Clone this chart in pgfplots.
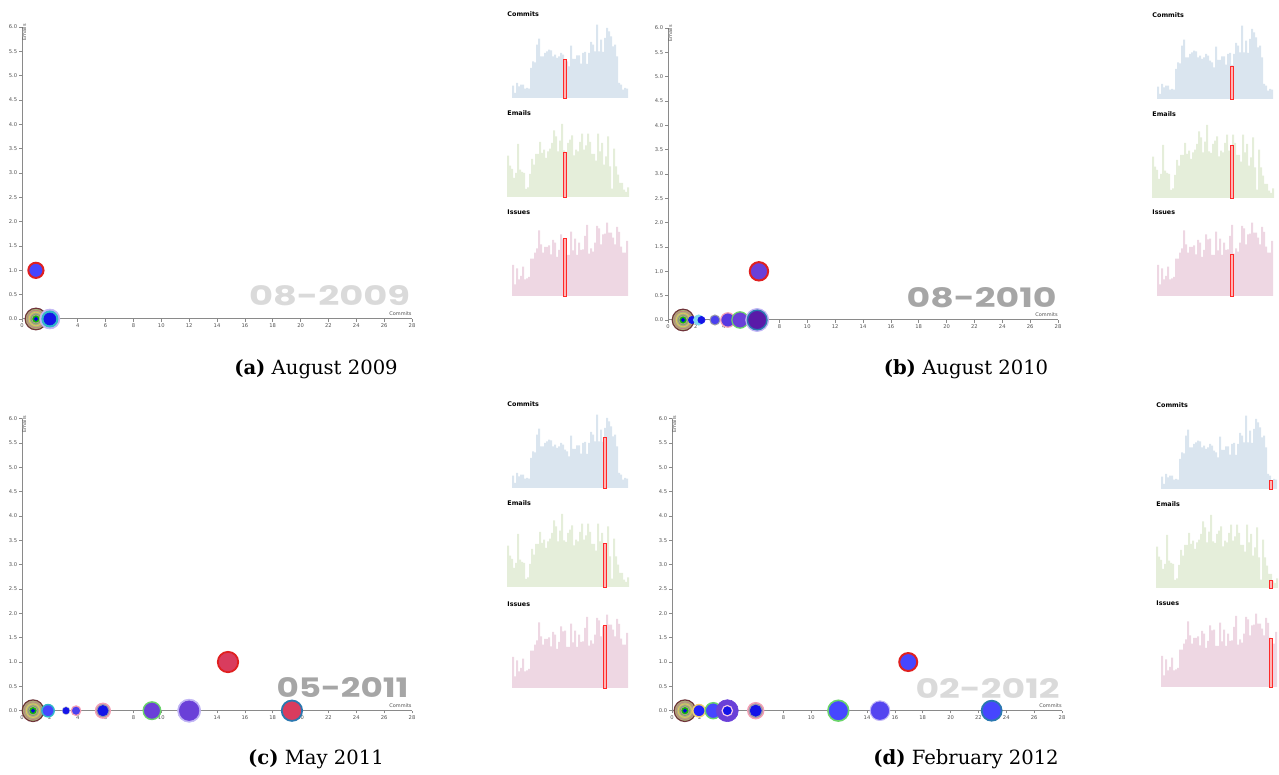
\documentclass[border=0pt]{standalone}
\usepackage{fontspec}
\setmainfont{DejaVu Serif}
\newfontfamily\datefont{Poppins}
\newfontfamily\labfont{DejaVu Sans}
\usepackage{graphicx}
\usepackage{pgfplots}
\pgfplotsset{compat=1.18}
\usepackage{pgfplotstable}

\definecolor{axgray}{HTML}{8A8A8A}
\definecolor{tickc}{HTML}{505050}
\definecolor{cfill}{HTML}{DAE5EF}
\definecolor{efill}{HTML}{E5EEDA}
\definecolor{ifill}{HTML}{EED7E3}
\definecolor{redb}{HTML}{FF2A2A}
\definecolor{redin}{HTML}{FFB4B4}
\definecolor{datelt}{HTML}{DADADA}
\definecolor{datedk}{HTML}{A6A6A6}
% bubble colours
\definecolor{tbrown}{HTML}{70343A}
\definecolor{tgreen}{HTML}{A9B77A}
\definecolor{tpink}{HTML}{C08080}
\definecolor{tyellow}{HTML}{E0C060}
\definecolor{tgray}{HTML}{909080}
\definecolor{tdgreen}{HTML}{10B010}
\definecolor{tblue}{HTML}{0000E0}
\definecolor{bfill}{HTML}{4646FF}
\definecolor{bfilltwo}{HTML}{2222FF}
\definecolor{bblue}{HTML}{1414E8}
\definecolor{btwo}{HTML}{4A40EE}
\definecolor{rred}{HTML}{E02020}
\definecolor{cyanr}{HTML}{30B8C8}
\definecolor{cyanlt}{HTML}{80D8EC}
\definecolor{halo}{HTML}{C0B4F4}
\definecolor{purp}{HTML}{6A40D8}
\definecolor{pone}{HTML}{5838E0}
\definecolor{ptwo}{HTML}{5545F0}
\definecolor{dpurp}{HTML}{5A1AA8}
\definecolor{crim}{HTML}{D93C5E}
\definecolor{steel}{HTML}{2A78B0}
\definecolor{greenr}{HTML}{6AD46A}
\definecolor{pinkr}{HTML}{F4A0B4}
\definecolor{pinkl}{HTML}{F4C8E8}
\definecolor{grayr}{HTML}{9A9AA8}
\definecolor{grayl}{HTML}{C8C8D8}
\definecolor{yellr}{HTML}{F0D070}

\newcommand\tickf{\labfont\fontsize{2.6}{3}\selectfont}
\newcommand\titf{\labfont\bfseries\fontsize{3.2}{3.6}\selectfont}

% histogram data (bar heights)
\pgfplotstableread[row sep=\\]{y\\37\\15\\45\\35\\40\\40\\28\\30\\28\\90\\110\\107\\160\\178\\125\\125\\135\\140\\145\\143\\125\\130\\120\\125\\135\\130\\115\\110\\95\\157\\117\\117\\128\\128\\103\\135\\138\\102\\135\\168\\160\\140\\220\\140\\175\\138\\180\\210\\200\\185\\155\\160\\125\\45\\40\\25\\30\\28\\}\commits
\pgfplotstableread[row sep=\\]{y\\124\\94\\84\\57\\72\\159\\82\\75\\72\\24\\29\\69\\114\\97\\129\\129\\165\\132\\142\\117\\137\\145\\162\\200\\182\\137\\169\\219\\140\\135\\162\\172\\185\\125\\142\\137\\165\\190\\142\\155\\190\\165\\129\\129\\109\\190\\137\\162\\97\\122\\182\\92\\25\\145\\92\\67\\42\\42\\22\\15\\29\\}\emails
\pgfplotstableread[row sep=\\]{y\\93\\35\\83\\50\\60\\88\\50\\53\\57\\112\\112\\130\\143\\197\\155\\130\\147\\147\\152\\125\\168\\160\\117\\138\\185\\170\\172\\123\\123\\193\\137\\172\\123\\160\\138\\140\\180\\213\\127\\143\\133\\160\\210\\203\\155\\185\\187\\220\\190\\190\\175\\155\\207\\192\\148\\130\\130\\165\\}\issues

\pgfplotsset{
  scat/.style={scale only axis, width=195pt, height=146pt, anchor=south west,
    xmin=0, xmax=28, ymin=0, ymax=6, axis lines*=left,
    axis line style={axgray, line width=0.5pt},
    tick style={axgray, line width=0.35pt}, tick align=outside, major tick length=1.4pt,
    xtick={0,2,...,28}, ytick={0,0.5,...,6},
    ticklabel style={font=\tickf, text=tickc, inner sep=0.8pt},
    /pgf/number format/assume math mode=true,
    yticklabel style={/pgf/number format/.cd, fixed, fixed zerofill, precision=1},
    xticklabel style={/pgf/number format/.cd, fixed, precision=0},
    clip=false},
  hist/.style={scale only axis, width=62pt, height=36.67pt, anchor=south west,
    xmin=0, xmax=124, ymin=0, ymax=220, axis lines=none, ticks=none, clip=false},
}

\newcommand\bub[6][0.5pt]{\addplot[only marks, mark=*, mark size=#4, mark options={draw=#5, fill=#6, line width=#1}] coordinates {(#2,#3)};}
\newcommand\ring[5][0.4pt]{\addplot[only marks, mark=o, mark size=#4, mark options={draw=#5, line width=#1}] coordinates {(#2,#3)};}
\newcommand\target[1]{%
  \bub[0.6pt]{#1}{0}{5.4}{tbrown}{tgreen}
  \ring{#1}{0}{4.4}{tpink}
  \ring{#1}{0}{3.4}{tyellow}
  \ring{#1}{0}{2.5}{tgray}
  \bub[0.3pt]{#1}{0}{1.6}{tdgreen}{tdgreen}
  \bub[0.2pt]{#1}{0}{0.9}{tblue}{tblue}}
\newcommand\scatlabels{%
  \node[font=\labfont\fontsize{2.5}{3}\selectfont, text=tickc, anchor=base east, inner sep=0pt] at (rel axis cs:1,0) [yshift=1.7pt] {Commits};
  \node[font=\labfont\fontsize{2.5}{3}\selectfont, text=tickc, rotate=90, anchor=north east, inner sep=0pt] at (rel axis cs:0,1) [xshift=1.6pt] {Emails};}

% #1 left, #2 #3 #4 baselines, #5 red x, #6 #7 #8 red heights
\newcommand\histpanel[8]{%
  \begin{axis}[hist, at={(#1,#2)}]
    \addplot[ybar, bar width=2, bar shift=0pt, draw=none, fill=cfill] table[x expr=\coordindex*2+6, y index=0] {\commits};
    \addplot[ybar, bar width=3, bar shift=0pt, draw=redb, fill=redin, line width=0.4pt] coordinates {(#5,#6)};
  \end{axis}
  \begin{axis}[hist, at={(#1,#3)}]
    \addplot[ybar, bar width=2, bar shift=0pt, draw=none, fill=efill] table[x expr=\coordindex*2+1, y index=0] {\emails};
    \addplot[ybar, bar width=3, bar shift=0pt, draw=redb, fill=redin, line width=0.4pt] coordinates {(#5,#7)};
  \end{axis}
  \begin{axis}[hist, at={(#1,#4)}]
    \addplot[ybar, bar width=2, bar shift=0pt, draw=none, fill=ifill] table[x expr=\coordindex*2+6, y index=0] {\issues};
    \addplot[ybar, bar width=3, bar shift=0pt, draw=redb, fill=redin, line width=0.4pt] coordinates {(#5,#8)};
  \end{axis}
  \node[font=\titf, anchor=west, inner sep=0pt] at (#1,\dimexpr#2+42pt\relax) {Commits};
  \node[font=\titf, anchor=west, inner sep=0pt] at (#1,\dimexpr#3+42pt\relax) {Emails};
  \node[font=\titf, anchor=west, inner sep=0pt] at (#1,\dimexpr#4+42pt\relax) {Issues};}

\begin{document}
\begin{tikzpicture}
\useasboundingbox (0,0) rectangle (639.5pt,387.5pt);

% ---------- (a) ----------
\node[anchor=south east, inner sep=0pt, text=datelt] at (205.25pt,234.5pt) {\resizebox{80.5pt}{10pt}{\datefont\bfseries 08-2009}};
\begin{axis}[scat, at={(11pt,228pt)}]
  \scatlabels
  \target{1}
  \bub[0.3pt]{2}{0}{5}{halo}{halo}
  \bub[0.5pt]{2}{0}{4}{cyanr}{cyanr}
  \bub[0.3pt]{2}{0}{3}{bblue}{bblue}
  \bub[1pt]{1}{1}{3.8}{rred}{bfill}
\end{axis}
\histpanel{253.5pt}{338.5pt}{289pt}{239.5pt}{58}{115}{135}{172}

% ---------- (b) ----------
\node[anchor=south east, inner sep=0pt, text=datedk] at (528.5pt,233.5pt) {\resizebox{75pt}{10pt}{\datefont\bfseries 08-2010}};
\begin{axis}[scat, at={(334pt,227.5pt)}]
  \scatlabels
  \target{1.08}
  \bub[0.3pt]{1.72}{0}{1.8}{bblue}{bblue}
  \bub[0.3pt]{2.2}{0}{2.6}{cyanlt}{cyanlt}
  \bub[0.3pt]{2.4}{0}{1.8}{bblue}{bblue}
  \bub[0.5pt]{3.37}{0}{2.5}{grayr}{btwo}
  \bub[0.6pt]{4.3}{0}{3.6}{pinkr}{pone}
  \bub[0.6pt]{5.17}{0}{4.1}{greenr}{purp}
  \bub[0.3pt]{6.4}{0}{5.8}{halo}{halo}
  \bub[0.7pt]{6.4}{0}{4.9}{steel}{dpurp}
  \bub[1pt]{6.53}{1}{4.6}{rred}{purp}
\end{axis}
\histpanel{576pt}{338pt}{288.5pt}{239.5pt}{80}{99}{159}{126}

% ---------- (c) ----------
\node[anchor=south east, inner sep=0pt, text=datedk] at (204.5pt,38.5pt) {\resizebox{66pt}{10pt}{\datefont\bfseries 05-2011}};
\begin{axis}[scat, at={(11pt,32.15pt)}]
  \scatlabels
  \target{0.79}
  \bub[0.7pt]{1.87}{0}{3.1}{cyanr}{bfill}
  \bub[0.3pt]{3.16}{0}{2.0}{grayl}{grayl}
  \bub[0.3pt]{3.16}{0}{1.6}{bblue}{bblue}
  \bub[0.6pt]{3.88}{0}{2.4}{pinkr}{btwo}
  \bub[0.7pt]{5.81}{0}{3.7}{pinkr}{grayr}
  \bub[0.3pt]{5.81}{0}{2.6}{bblue}{bblue}
  \bub[0.7pt]{9.33}{0}{4.4}{greenr}{purp}
  \bub[0.3pt]{12.0}{0}{5.8}{halo}{halo}
  \bub[0.3pt]{12.0}{0}{4.9}{purp}{purp}
  \bub[0.9pt]{19.38}{0}{5.1}{steel}{crim}
  \bub[0.9pt]{14.79}{1}{5.1}{rred}{crim}
\end{axis}
\histpanel{253.5pt}{143.5pt}{94pt}{43.5pt}{98}{153}{132}{189}

% ---------- (d) ----------
\node[anchor=south east, inner sep=0pt, text=datelt] at (530pt,38pt) {\resizebox{72pt}{10pt}{\datefont\bfseries 02-2012}};
\begin{axis}[scat, at={(336pt,32.15pt)}]
  \scatlabels
  \target{0.93}
  \bub[0.7pt]{1.94}{0}{3.1}{yellr}{bfilltwo}
  \bub[0.7pt]{2.96}{0}{4.0}{greenr}{bfill}
  \bub[0.3pt]{3.97}{0}{5.5}{purp}{purp}
  \bub[0.6pt]{3.97}{0}{2.6}{pinkl}{bblue}
  \bub[0.7pt]{6.01}{0}{4.0}{pinkr}{grayr}
  \bub[0.3pt]{6.01}{0}{2.8}{bblue}{bblue}
  \bub[0.8pt]{11.94}{0}{5.2}{greenr}{bfill}
  \bub[0.3pt]{14.93}{0}{5.0}{halo}{halo}
  \bub[0.3pt]{14.93}{0}{4.4}{ptwo}{ptwo}
  \bub[0.9pt]{22.95}{0}{5.0}{steel}{bfill}
  \bub[1pt]{16.96}{1}{4.5}{rred}{bfill}
\end{axis}
\histpanel{578pt}{143pt}{93.5pt}{44pt}{115}{27}{24}{147}

% ---------- captions ----------
\node[anchor=base, inner sep=0pt, font=\fontsize{9.8}{11}\selectfont] at (158pt,200pt) {\textbf{(a)} August 2009};
\node[anchor=base, inner sep=0pt, font=\fontsize{9.8}{11}\selectfont] at (483pt,200pt) {\textbf{(b)} August 2010};
\node[anchor=base, inner sep=0pt, font=\fontsize{9.8}{11}\selectfont] at (158pt,5pt) {\textbf{(c)} May 2011};
\node[anchor=base, inner sep=0pt, font=\fontsize{9.8}{11}\selectfont] at (483pt,5pt) {\textbf{(d)} February 2012};
\end{tikzpicture}
\end{document}
